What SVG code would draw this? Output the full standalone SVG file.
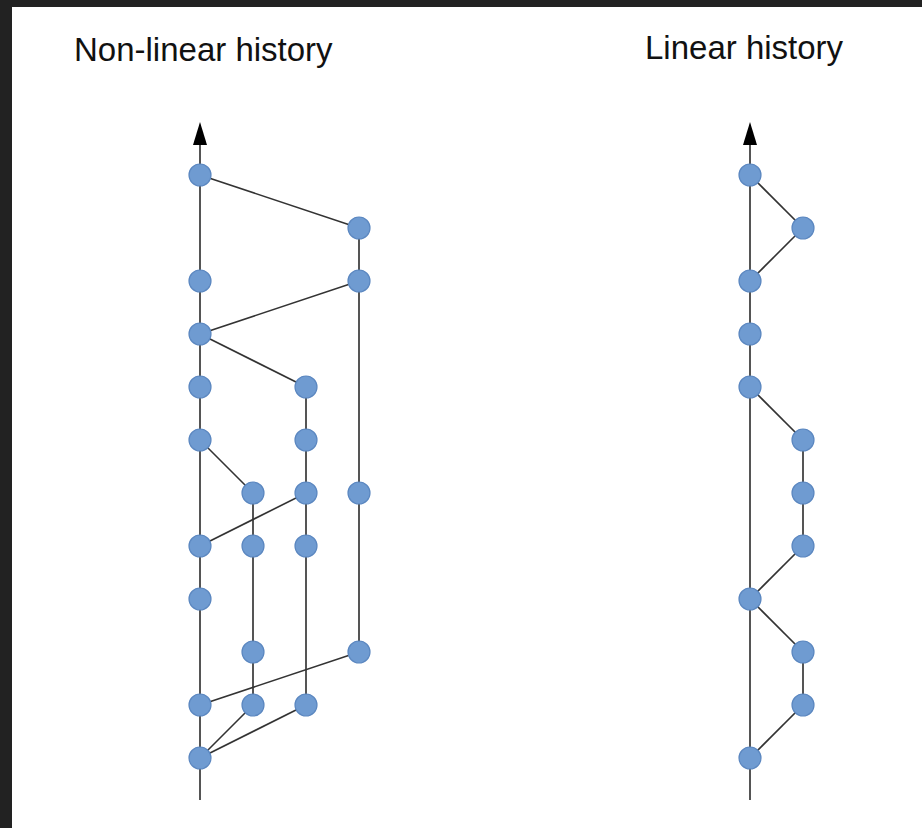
<svg xmlns="http://www.w3.org/2000/svg" width="922" height="828" viewBox="0 0 922 828">
<style>
.t{font-family:"Liberation Sans",Arial,sans-serif;font-size:33px;fill:#111}
.n{fill:#6f9bd1;stroke:#5b87c0;stroke-width:1.2}
.m{stroke:#555;stroke-width:2;fill:none}
.e{stroke:#333;stroke-width:1.6;fill:none}
.a{fill:#000}
</style>
<rect x="0" y="0" width="922" height="828" fill="#222"/>
<rect x="12" y="7" width="910" height="821" fill="#fff"/>
<text class="t" x="74" y="61">Non-linear history</text>
<text class="t" x="645" y="59">Linear history</text>
<g id="connectors">
<line class="m" x1="200" y1="800" x2="200" y2="142"/>
<polygon class="a" points="200,122 193,145 207,145"/>
<line class="e" x1="200" y1="175" x2="359" y2="228"/>
<line class="m" x1="359" y1="228" x2="359" y2="652"/>
<line class="e" x1="200" y1="334" x2="359" y2="281"/>
<line class="e" x1="200" y1="334" x2="306" y2="387"/>
<line class="m" x1="306" y1="387" x2="306" y2="705"/>
<line class="e" x1="200" y1="440" x2="253" y2="493"/>
<line class="m" x1="253" y1="493" x2="253" y2="705"/>
<line class="e" x1="200" y1="546" x2="306" y2="493"/>
<line class="e" x1="200" y1="705" x2="359" y2="652"/>
<line class="e" x1="200" y1="758" x2="253" y2="705"/>
<line class="e" x1="200" y1="758" x2="306" y2="705"/>
<line class="m" x1="750" y1="800" x2="750" y2="142"/>
<polygon class="a" points="750,122 743,145 757,145"/>
<line class="e" x1="750" y1="175" x2="803" y2="228"/>
<line class="e" x1="803" y1="228" x2="750" y2="281"/>
<line class="e" x1="750" y1="387" x2="803" y2="440"/>
<line class="m" x1="803" y1="440" x2="803" y2="546"/>
<line class="e" x1="803" y1="546" x2="750" y2="599"/>
<line class="e" x1="750" y1="599" x2="803" y2="652"/>
<line class="m" x1="803" y1="652" x2="803" y2="705"/>
<line class="e" x1="803" y1="705" x2="750" y2="758"/>
</g>
<g id="nonlinear-nodes">
<g id="n1"><circle class="n" cx="200" cy="175" r="11"/></g>
<g id="n2"><circle class="n" cx="359" cy="228" r="11"/></g>
<g id="n3"><circle class="n" cx="200" cy="281" r="11"/></g>
<g id="n4"><circle class="n" cx="359" cy="281" r="11"/></g>
<g id="n5"><circle class="n" cx="200" cy="334" r="11"/></g>
<g id="n6"><circle class="n" cx="200" cy="387" r="11"/></g>
<g id="n7"><circle class="n" cx="306" cy="387" r="11"/></g>
<g id="n8"><circle class="n" cx="200" cy="440" r="11"/></g>
<g id="n9"><circle class="n" cx="306" cy="440" r="11"/></g>
<g id="n10"><circle class="n" cx="253" cy="493" r="11"/></g>
<g id="n11"><circle class="n" cx="306" cy="493" r="11"/></g>
<g id="n12"><circle class="n" cx="359" cy="493" r="11"/></g>
<g id="n13"><circle class="n" cx="200" cy="546" r="11"/></g>
<g id="n14"><circle class="n" cx="253" cy="546" r="11"/></g>
<g id="n15"><circle class="n" cx="306" cy="546" r="11"/></g>
<g id="n16"><circle class="n" cx="200" cy="599" r="11"/></g>
<g id="n17"><circle class="n" cx="253" cy="652" r="11"/></g>
<g id="n18"><circle class="n" cx="359" cy="652" r="11"/></g>
<g id="n19"><circle class="n" cx="200" cy="705" r="11"/></g>
<g id="n20"><circle class="n" cx="253" cy="705" r="11"/></g>
<g id="n21"><circle class="n" cx="306" cy="705" r="11"/></g>
<g id="n22"><circle class="n" cx="200" cy="758" r="11"/></g>
</g>
<g id="linear-nodes">
<g id="l1"><circle class="n" cx="750" cy="175" r="11"/></g>
<g id="l2"><circle class="n" cx="803" cy="228" r="11"/></g>
<g id="l3"><circle class="n" cx="750" cy="281" r="11"/></g>
<g id="l4"><circle class="n" cx="750" cy="334" r="11"/></g>
<g id="l5"><circle class="n" cx="750" cy="387" r="11"/></g>
<g id="l6"><circle class="n" cx="803" cy="440" r="11"/></g>
<g id="l7"><circle class="n" cx="803" cy="493" r="11"/></g>
<g id="l8"><circle class="n" cx="803" cy="546" r="11"/></g>
<g id="l9"><circle class="n" cx="750" cy="599" r="11"/></g>
<g id="l10"><circle class="n" cx="803" cy="652" r="11"/></g>
<g id="l11"><circle class="n" cx="803" cy="705" r="11"/></g>
<g id="l12"><circle class="n" cx="750" cy="758" r="11"/></g>
</g>
</svg>
